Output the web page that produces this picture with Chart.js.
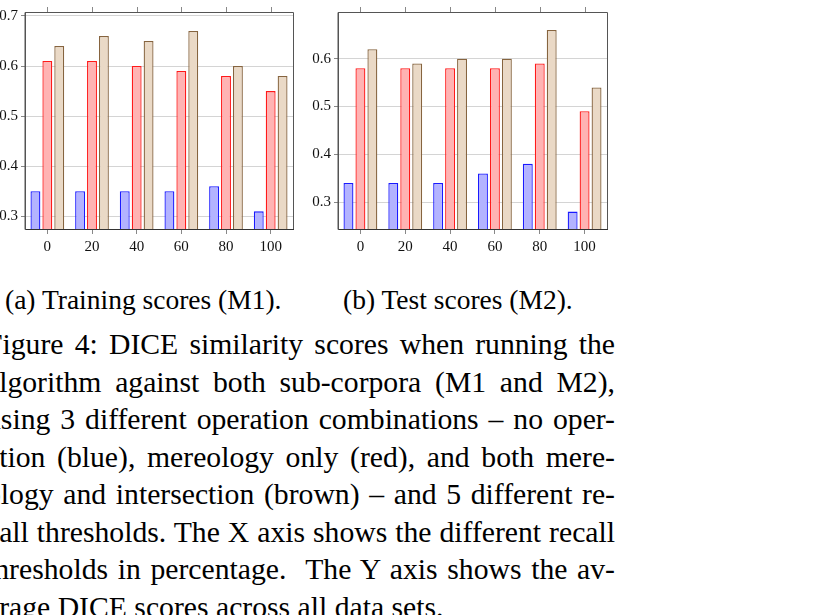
<!DOCTYPE html>
<html>
<head>
<meta charset="utf-8">
<script src="https://cdn.jsdelivr.net/npm/chart.js@4/dist/chart.umd.min.js"></script>
<style>
  html, body { margin: 0; padding: 0; background: #fff; }
  body { width: 816px; height: 615px; overflow: hidden; position: relative;
         font-family: "Liberation Serif", "Times New Roman", serif; color: #000; }
  .cv { position: absolute; }
  .cap { position: absolute; font-size: 27.5px; line-height: 30px; white-space: nowrap; }
  .para { position: absolute; left: -14px; width: 629px; font-size: 29.7px; line-height: 37.5px; }
  .ln { text-align: justify; text-align-last: justify; white-space: nowrap; height: 37.5px; }
  .ln.last { text-align-last: left; }
</style>
</head>
<body>
<canvas id="c1" class="cv" width="300" height="262" style="left:0;top:0;width:300px;height:262px"></canvas>
<canvas id="c2" class="cv" width="300" height="262" style="left:310px;top:0;width:300px;height:262px"></canvas>
<div class="cap" style="left:5px;top:285px">(a) Training scores (M1).</div>
<div class="cap" style="left:343px;top:285px">(b) Test scores (M2).</div>
<div class="para" style="top:326px">
  <div class="ln">Figure 4: DICE similarity scores when running the</div>
  <div class="ln">algorithm against both sub-corpora (M1 and M2),</div>
  <div class="ln">using 3 different operation combinations – no oper-</div>
  <div class="ln">ation (blue), mereology only (red), and both mere-</div>
  <div class="ln">ology and intersection (brown) – and 5 different re-</div>
  <div class="ln">call thresholds. The X axis shows the different recall</div>
  <div class="ln">thresholds in percentage.&nbsp; The Y axis shows the av-</div>
  <div class="ln last">erage DICE scores across all data sets.</div>
</div>
<script>
// ---- data ----
const thresholds = ['0', '20', '40', '60', '80', '100'];
const seriesNames = ['no operation', 'mereology only', 'mereology and intersection'];

const m1NoOp      = [0.35, 0.35, 0.35, 0.35, 0.36, 0.31];
const m1Mereology = [0.61, 0.61, 0.60, 0.59, 0.58, 0.55];
const m1Both      = [0.64, 0.66, 0.65, 0.67, 0.60, 0.58];

const m2NoOp      = [0.34, 0.34, 0.34, 0.36, 0.38, 0.28];
const m2Mereology = [0.58, 0.58, 0.58, 0.58, 0.59, 0.49];
const m2Both      = [0.62, 0.59, 0.60, 0.60, 0.66, 0.54];

const m1YTicks = [0.3, 0.4, 0.5, 0.6, 0.7];
const m2YTicks = [0.3, 0.4, 0.5, 0.6];
const m1YRange = [0.2748, 0.7078];
const m2YRange = [0.2436, 0.6978];

// ---- styling ----
const fills   = ['#b3b3ff', '#ffb3b3', '#ead9c6'];
const borders = ['#1a1aff', '#ff1a1a', '#86643f'];
const tickFont = { family: '"Liberation Serif", "Times New Roman", serif', size: 15 };

const framePlugin = {
  id: 'frame',
  afterDraw(chart) {
    const { ctx, chartArea: a, scales } = chart;
    ctx.save();
    ctx.strokeStyle = '#555';
    ctx.lineWidth = 1;
    ctx.beginPath();
    ctx.moveTo(a.left, a.bottom + 0.5);
    ctx.lineTo(a.left, a.top + 0.5);
    ctx.lineTo(a.right + 0.5, a.top + 0.5);
    ctx.lineTo(a.right + 0.5, a.bottom);
    ctx.stroke();
    // top tick marks
    ctx.strokeStyle = '#888';
    const xs = scales.x;
    xs.ticks.forEach((t, i) => {
      const px = Math.round(xs.getPixelForTick(i)) + 0.5;
      ctx.beginPath();
      ctx.moveTo(px, a.top);
      ctx.lineTo(px, a.top - 5);
      ctx.stroke();
    });
    ctx.restore();
  }
};

function makeChart(id, values, yTicks, yRange, yWidth, padRight) {
  const datasets = values.map((v, i) => ({
    label: seriesNames[i],
    data: v,
    backgroundColor: fills[i],
    borderColor: borders[i],
    borderWidth: 1.3,
    categoryPercentage: 0.8,
    barPercentage: 0.83,
    base: yRange[0],
    clip: 0
  }));
  return new Chart(document.getElementById(id), {
    type: 'bar',
    data: { labels: thresholds, datasets },
    options: {
      responsive: false,
      animation: false,
      devicePixelRatio: 1,
      layout: { padding: { top: 6, right: padRight, left: 0, bottom: 0 } },
      plugins: { legend: { display: false }, tooltip: { enabled: false } },
      scales: {
        x: {
          type: 'category',
          offset: true,
          grid: { offset: false, drawOnChartArea: false, drawTicks: true, tickLength: 5, tickColor: '#888' },
          border: { display: true, color: '#333', width: 1 },
          ticks: { font: tickFont, color: '#111', padding: 4, maxRotation: 0 },
          afterFit(s) { s.height = 33; }
        },
        y: {
          type: 'linear',
          min: yRange[0],
          max: yRange[1],
          afterBuildTicks(s) { s.ticks = yTicks.map(v => ({ value: v })); },
          grid: { color: '#d4d4d4', lineWidth: 1, drawTicks: true, tickLength: 4, tickColor: '#888' },
          border: { display: true, color: '#555', width: 1 },
          ticks: { font: tickFont, color: '#111', padding: 3, callback: v => Number(v).toFixed(1) },
          afterFit(s) { s.width = yWidth; }
        }
      }
    },
    plugins: [framePlugin]
  });
}

makeChart('c1', [m1NoOp, m1Mereology, m1Both], m1YTicks, m1YRange, 25, 7);
makeChart('c2', [m2NoOp, m2Mereology, m2Both], m2YTicks, m2YRange, 28, 3);
</script>
</body>
</html>
